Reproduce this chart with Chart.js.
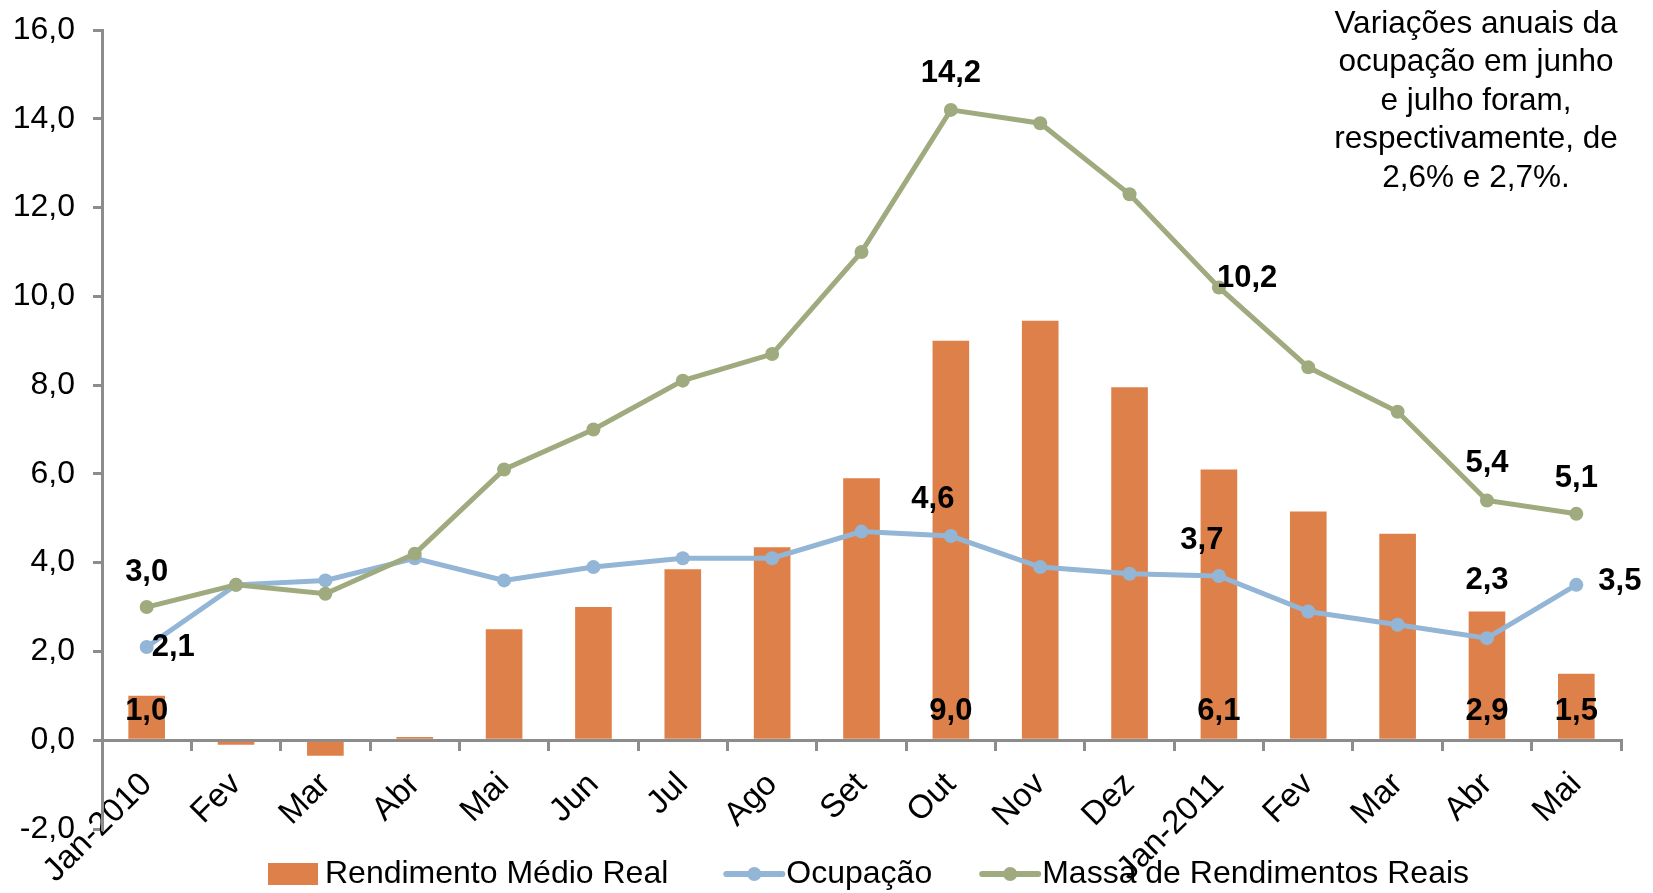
<!DOCTYPE html>
<html>
<head>
<meta charset="utf-8">
<title>Rendimento, Ocupação e Massa de Rendimentos</title>
<script src="https://cdn.jsdelivr.net/npm/chart.js@4/dist/chart.umd.min.js"></script>
<style>
    html, body { margin: 0; padding: 0; background: #ffffff; }
    #chart { display: block; }
</style>
</head>
<body>
<canvas id="chart" width="1653" height="893"></canvas>
<script>
// Data
const months = ['Jan-2010', 'Fev', 'Mar', 'Abr', 'Mai', 'Jun', 'Jul', 'Ago', 'Set', 'Out', 'Nov', 'Dez',
    'Jan-2011', 'Fev', 'Mar', 'Abr', 'Mai'];
const rendimento = [1.0, -0.1, -0.35, 0.07, 2.5, 3.0, 3.85, 4.35, 5.9, 9.0, 9.45, 7.95, 6.1, 5.15, 4.65, 2.9, 1.5];
const ocupacao = [2.1, 3.5, 3.6, 4.1, 3.6, 3.9, 4.1, 4.1, 4.7, 4.6, 3.9, 3.75, 3.7, 2.9, 2.6, 2.3, 3.5];
const massa = [3.0, 3.5, 3.3, 4.2, 6.1, 7.0, 8.1, 8.7, 11.0, 14.2, 13.9, 12.3, 10.2, 8.4, 7.4, 5.4, 5.1];
const yTicks = [-2, 0, 2, 4, 6, 8, 10, 12, 14, 16];
const note = ['Variações anuais da', 'ocupação em junho', 'e julho foram,', 'respectivamente, de', '2,6% e 2,7%.'];

// Which points get a value label, and where
const barLabels = [0, 9, 12, 15, 16];
const ocupLabels = [
    { i: 0, dx: 5, dy: 0, align: 'left' },
    { i: 9, dx: -18, dy: -37, align: 'center' },
    { i: 12, dx: -17, dy: -36, align: 'center' },
    { i: 15, dx: 0, dy: -58, align: 'center' },
    { i: 16, dx: 22, dy: -3, align: 'left' }
];
const massaLabels = [
    { i: 0, dx: 0, dy: -35, align: 'center' },
    { i: 9, dx: 0, dy: -36, align: 'center' },
    { i: 12, dx: -2, dy: -9, align: 'left' },
    { i: 15, dx: 0, dy: -37, align: 'center' },
    { i: 16, dx: 0, dy: -35, align: 'center' }
];

const ORANGE = '#DE8049';
const BLUE = '#93B5D6';
const GREEN = '#9FAB7F';
const AXIS = '#8C8C8C';
const FONT = '"Liberation Sans", Arial, sans-serif';

const fmt = v => v.toFixed(1).replace('.', ',');

// value labels, legend and side note
const extrasPlugin = {
    id: 'extras',
    afterDatasetsDraw(chart) {
        const ctx = chart.ctx;
        ctx.save();
        ctx.fillStyle = '#000';
        ctx.font = 'bold 31px ' + FONT;
        ctx.textBaseline = 'middle';

        const barMeta = chart.getDatasetMeta(0);
        barLabels.forEach(i => {
            const el = barMeta.data[i];
            ctx.textAlign = 'center';
            ctx.fillText(fmt(rendimento[i]), el.x, el.base - 27);
        });

        const drawPointLabels = (dsIndex, specs, values) => {
            const meta = chart.getDatasetMeta(dsIndex);
            specs.forEach(s => {
                const el = meta.data[s.i];
                ctx.textAlign = s.align;
                ctx.fillText(fmt(values[s.i]), el.x + s.dx, el.y + s.dy);
            });
        };
        drawPointLabels(1, ocupLabels, ocupacao);
        drawPointLabels(2, massaLabels, massa);

        // note top right
        ctx.font = '31.5px ' + FONT;
        ctx.textAlign = 'center';
        note.forEach((line, k) => ctx.fillText(line, 1476, 24 + k * 38.5));

        // legend
        ctx.font = '32px ' + FONT;
        ctx.textAlign = 'left';
        const ly = 874;
        let x = 268;
        ctx.fillStyle = ORANGE;
        ctx.fillRect(x, ly - 11, 50, 22);
        x += 57;
        ctx.fillStyle = '#000';
        ctx.fillText('Rendimento Médio Real', x, ly);
        x += ctx.measureText('Rendimento Médio Real').width + 58;

        const lineKey = (color, text) => {
            ctx.strokeStyle = color;
            ctx.lineWidth = 6;
            ctx.lineCap = 'round';
            ctx.beginPath();
            ctx.moveTo(x, ly);
            ctx.lineTo(x + 56, ly);
            ctx.stroke();
            ctx.fillStyle = color;
            ctx.beginPath();
            ctx.arc(x + 28, ly, 7, 0, Math.PI * 2);
            ctx.fill();
            x += 60;
            ctx.fillStyle = '#000';
            ctx.fillText(text, x, ly);
            x += ctx.measureText(text).width + 50;
        };
        lineKey(BLUE, 'Ocupação');
        lineKey(GREEN, 'Massa de Rendimentos Reais');
        ctx.restore();
    }
};

const chart = new Chart(document.getElementById('chart').getContext('2d'), {
    data: {
        labels: months,
        datasets: [{
            type: 'bar',
            label: 'Rendimento Médio Real',
            data: rendimento,
            backgroundColor: ORANGE,
            barPercentage: 0.41,
            categoryPercentage: 1,
            order: 3
        }, {
            type: 'line',
            label: 'Ocupação',
            data: ocupacao,
            borderColor: BLUE,
            backgroundColor: BLUE,
            borderWidth: 5,
            pointRadius: 7,
            pointHoverRadius: 7,
            pointBorderWidth: 0,
            tension: 0,
            order: 2
        }, {
            type: 'line',
            label: 'Massa de Rendimentos Reais',
            data: massa,
            borderColor: GREEN,
            backgroundColor: GREEN,
            borderWidth: 5,
            pointRadius: 7,
            pointHoverRadius: 7,
            pointBorderWidth: 0,
            tension: 0,
            order: 1
        }]
    },
    options: {
        responsive: false,
        devicePixelRatio: 1,
        animation: false,
        layout: { padding: { top: 30, bottom: 64, right: 32, left: 0 } },
        plugins: {
            legend: { display: false },
            tooltip: { enabled: false }
        },
        scales: {
            x: {
                position: { y: 0 },
                offset: true,
                grid: { offset: true, drawOnChartArea: false, drawTicks: true, tickLength: 9, color: AXIS, lineWidth: 3 },
                border: { color: AXIS, width: 3 },
                ticks: {
                    color: '#000',
                    font: { family: FONT, size: 33 },
                    maxRotation: 45,
                    minRotation: 45,
                    autoSkip: false,
                    padding: 16
                }
            },
            y: {
                min: -2,
                max: 16,
                afterBuildTicks: s => { s.ticks = yTicks.map(v => ({ value: v })); },
                afterFit: s => {
                    s.width = 102;
                    s.paddingTop = 0;
                    s.paddingBottom = 0;
                },
                grid: { drawOnChartArea: false, drawTicks: true, tickLength: 9, color: AXIS, lineWidth: 3 },
                border: { color: AXIS, width: 3 },
                ticks: {
                    color: '#000',
                    font: { family: FONT, size: 32 },
                    padding: 18,
                    callback: v => fmt(v)
                }
            }
        }
    },
    plugins: [extrasPlugin]
});
</script>
</body>
</html>
